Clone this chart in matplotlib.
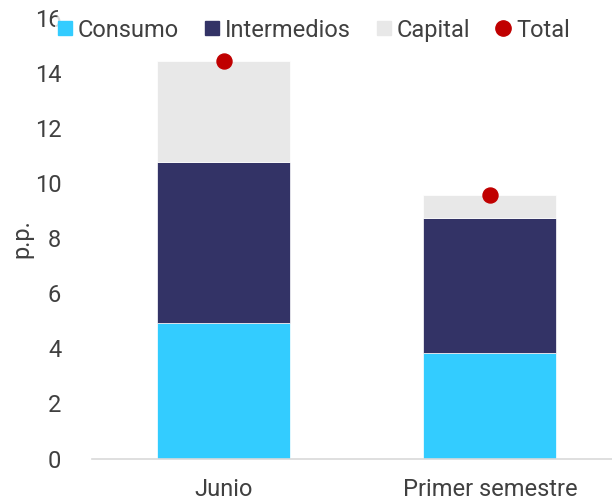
import matplotlib
matplotlib.use("Agg")
import matplotlib.pyplot as plt
from matplotlib.lines import Line2D

categories = ["Junio", "Primer semestre"]
consumo = [4.93, 3.85]
intermedios = [5.83, 4.87]
capital = [3.68, 0.85]
total = [14.44, 9.57]

series_names = ["Consumo", "Intermedios", "Capital", "Total"]
colors = {"Consumo": "#33CCFF", "Intermedios": "#333366",
          "Capital": "#E8E8E8", "Total": "#C00000"}
yticks = [0, 2, 4, 6, 8, 10, 12, 14, 16]

text_color = "#404040"
plt.rcParams["font.family"] = ["Roboto", "DejaVu Sans"]
plt.rcParams["font.size"] = 17

fig = plt.figure(figsize=(6.12, 5.01), dpi=100)
ax = fig.add_axes([0.150, 0.0848, 0.850, 0.8792])

x = list(range(len(categories)))
width = 0.5
bottom2 = [a + b for a, b in zip(consumo, intermedios)]
ax.bar(x, consumo, width, color=colors["Consumo"], edgecolor="white", linewidth=0.5, zorder=2)
ax.bar(x, intermedios, width, bottom=consumo, color=colors["Intermedios"],
       edgecolor="white", linewidth=0.5, zorder=2)
ax.bar(x, capital, width, bottom=bottom2, color=colors["Capital"],
       edgecolor="white", linewidth=0.5, zorder=2)
ax.plot(x, total, linestyle="none", marker="o", markersize=10.8,
        color=colors["Total"], zorder=3)

ax.set_xlim(-0.496, 1.459)
ax.set_ylim(0, 16)
ax.set_yticks(yticks)
ax.set_xticks(x)
ax.set_xticklabels(categories)
ax.tick_params(axis="both", length=0, colors=text_color, labelsize=17)
ax.tick_params(axis="y", pad=22)
ax.tick_params(axis="x", pad=14)
for s in ["left", "right", "top"]:
    ax.spines[s].set_visible(False)
ax.spines["bottom"].set_color("#D9D9D9")
ax.spines["bottom"].set_linewidth(1.2)
ax.set_ylabel("p.p.", color=text_color, fontsize=17, labelpad=1)

handles = [
    Line2D([], [], linestyle="none", marker="s", markersize=10, color=colors["Consumo"]),
    Line2D([], [], linestyle="none", marker="s", markersize=10, color=colors["Intermedios"]),
    Line2D([], [], linestyle="none", marker="s", markersize=10, color=colors["Capital"]),
    Line2D([], [], linestyle="none", marker="o", markersize=11, color=colors["Total"]),
]
leg = fig.legend(handles, series_names, loc="center", bbox_to_anchor=(0.513, 0.94),
                 ncol=4, frameon=True, facecolor="white", edgecolor="none", fontsize=17,
                 handlelength=0.6, handletextpad=0.25, columnspacing=1.1,
                 borderpad=0.1, labelcolor=text_color)
leg.set_zorder(5)

fig.savefig("out.png", dpi=100)
